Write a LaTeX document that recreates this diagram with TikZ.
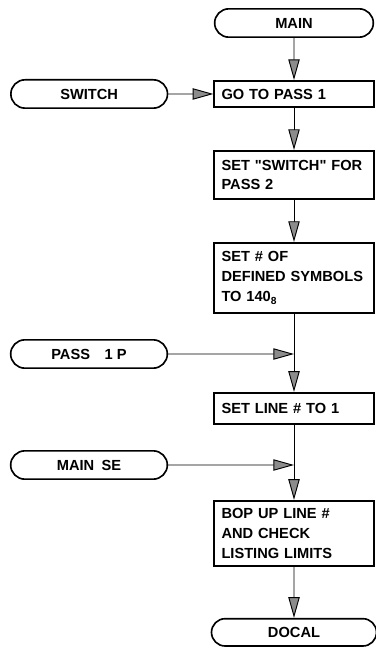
\documentclass[tikz,border=0pt]{standalone}
\usepackage{fontspec}
\setsansfont{Liberation Sans}
\usetikzlibrary{arrows.meta,positioning,shapes.misc}
\tikzstyle{every node}=[font=\sffamily\bfseries\fontsize{12.5}{17}\selectfont]
\tikzstyle{terminal}=[draw,line width=1.4pt,rounded rectangle,minimum width=4.7cm,minimum height=0.85cm,inner sep=0pt]
\tikzstyle{process}=[draw,line width=1.4pt,rectangle,text width=4.35cm,align=left,inner xsep=0.22cm,inner ysep=0.1cm]
\tikzstyle{flow}=[draw,line width=0.8pt,-{Triangle[length=0.62cm,width=0.34cm,fill=black!45]}]

\begin{document}
\begin{tikzpicture}[node distance=1.26cm]
  \useasboundingbox (0,0) rectangle (11.25,-19.56);
  \node[terminal,minimum width=4.76cm] (main) at (8.82,-0.69) {MAIN};
  \node[process,minimum height=0.79cm] (gopass) [below=of main] {GO TO PASS 1};
  \node[process,minimum height=1.45cm] (setsw) [below=of gopass] {SET \textquotedbl SWITCH\textquotedbl\ FOR\\PASS 2};
  \node[process,minimum height=2.11cm] (defsym) [below=of setsw] {SET \# OF\\DEFINED SYMBOLS\\TO 140\textsubscript{8}};
  \node[process,minimum height=0.94cm] (setline) [below=2.34cm of defsym] {SET LINE \# TO 1};
  \node[process,minimum height=1.96cm] (bopline) [below=2.25cm of setline] {BOP UP LINE \#\\AND CHECK\\LISTING LIMITS};
  \node[terminal,minimum width=4.95cm,minimum height=0.82cm] (docal) [below=1.53cm of bopline] {DOCAL};

  \node[terminal] (switch) [left=1.35cm of gopass] {SWITCH};
  \node[terminal] (passp) at (2.67,-10.62) {PASS\quad 1 P};
  \node[terminal] (mainse) at (2.67,-13.95) {MAIN\enspace SE};
  \coordinate (jpass) at (passp -| defsym);
  \coordinate (jmain) at (mainse -| setline);

  \path[flow] (main) -- (gopass);
  \path[flow] (switch) -- (gopass);
  \path[flow] (gopass) -- (setsw);
  \path[flow] (setsw) -- (defsym);
  \path[flow] (defsym) -- (setline);
  \path[flow] (passp) -- (jpass);
  \path[flow] (setline) -- (bopline);
  \path[flow] (mainse) -- (jmain);
  \path[flow] (bopline) -- (docal);
\end{tikzpicture}
\end{document}
